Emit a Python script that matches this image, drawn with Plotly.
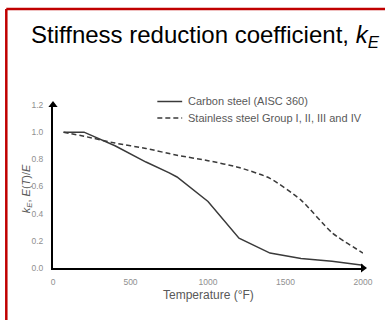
import plotly.graph_objects as go

# Temperature (°F) and stiffness reduction factors
carbon_temp = [68, 200, 400, 600, 750, 800, 1000, 1200, 1400, 1600, 1800, 2000]
carbon_ke = [1.00, 1.00, 0.90, 0.78, 0.70, 0.67, 0.49, 0.22, 0.11, 0.07, 0.05, 0.02]

stainless_temp = [68, 200, 400, 600, 800, 1000, 1200, 1400, 1600, 1800, 2000]
stainless_ke = [1.00, 0.97, 0.92, 0.88, 0.83, 0.79, 0.74, 0.66, 0.50, 0.26, 0.11]

series_names = ["Carbon steel (AISC 360)", "Stainless steel Group I, II, III and IV"]

x_ticks = [0, 500, 1000, 1500, 2000]
y_ticks = [0.0, 0.2, 0.4, 0.6, 0.8, 1.0, 1.2]
x_max, y_max = 2000, 1.2

FONT = "Liberation Sans, Arial, sans-serif"
TICK_GREY = "#8f8f8f"
TEXT_GREY = "#595959"
LINE_GREY = "#3a3a3a"
DASH = "5px,3px"

W, H = 385, 320
L, R, T, B = 53, 20, 105, 52
pw, ph = W - L - R, H - T - B


def px_x(p):
    return (p - L) / pw


def px_y(p):
    return (H - B - p) / ph


fig = go.Figure()
fig.add_trace(go.Scatter(
    x=carbon_temp, y=carbon_ke, mode="lines", name=series_names[0],
    line=dict(color=LINE_GREY, width=1.5), showlegend=False,
))
fig.add_trace(go.Scatter(
    x=stainless_temp, y=stainless_ke, mode="lines", name=series_names[1],
    line=dict(color=LINE_GREY, width=1.5, dash=DASH, shape="spline", smoothing=0.6),
    showlegend=False,
))

# Arrowheads at the ends of both axes
fig.add_trace(go.Scatter(
    x=[0, x_max], y=[y_max, 0], mode="markers", showlegend=False, hoverinfo="skip",
    marker=dict(symbol=["triangle-up", "triangle-right"], size=8, color="black",
                line=dict(width=0)),
    cliponaxis=False,
))

fig.update_layout(
    width=W, height=H,
    margin=dict(l=L, r=R, t=T, b=B),
    paper_bgcolor="white", plot_bgcolor="white",
    font=dict(family=FONT, color=TEXT_GREY),
    showlegend=False,
    xaxis=dict(
        range=[0, x_max], tickvals=x_ticks, ticktext=[str(v) for v in x_ticks],
        showgrid=False, zeroline=False,
        showline=True, linecolor="black", linewidth=2,
        ticks="outside", ticklen=5, tickcolor="rgba(0,0,0,0)",
        tickfont=dict(size=8.5, color=TICK_GREY),
    ),
    yaxis=dict(
        range=[0, y_max], tickvals=y_ticks, ticktext=[f"{v:.1f}" for v in y_ticks],
        showgrid=False, zeroline=False,
        showline=True, linecolor="black", linewidth=2,
        ticks="outside", ticklen=6, tickcolor="rgba(0,0,0,0)",
        tickfont=dict(size=8.5, color=TICK_GREY),
    ),
)

# Axis titles
fig.add_annotation(
    x=px_x(209), y=px_y(295), xref="paper", yref="paper", showarrow=False,
    text="Temperature (°F)", font=dict(size=12, color=TEXT_GREY),
    xanchor="center", yanchor="middle",
)
fig.add_annotation(
    x=px_x(27), y=px_y(189), xref="paper", yref="paper", showarrow=False,
    text="<i>k<sub>E</sub></i>, <i>E</i>(<i>T</i>)/<i>E</i>",
    textangle=-90, font=dict(size=11, color=TEXT_GREY),
    xanchor="center", yanchor="middle",
)

# Legend: line samples and labels
legend_rows = [101.5, 118]
legend_dash = ["solid", DASH]
for name, row, dash in zip(series_names, legend_rows, legend_dash):
    fig.add_shape(type="line", xref="paper", yref="paper",
                  x0=px_x(158), x1=px_x(183), y0=px_y(row), y1=px_y(row),
                  line=dict(color=LINE_GREY, width=1.5, dash=dash))
    fig.add_annotation(
        x=px_x(187), y=px_y(row), xref="paper", yref="paper", showarrow=False,
        text=name, font=dict(size=11, color=TEXT_GREY),
        xanchor="left", yanchor="middle",
    )

# Heading
fig.add_annotation(
    x=px_x(29), y=px_y(36), xref="paper", yref="paper", showarrow=False,
    text="Stiffness reduction coefficient, <i>k<sub>E</sub></i>",
    font=dict(size=24, color="black"), xanchor="left", yanchor="middle",
)

# Red frame around the panel (runs past the right and bottom edges)
fig.add_shape(type="line", xref="paper", yref="paper",
              x0=px_x(6), y0=px_y(9), x1=px_x(400), y1=px_y(9),
              line=dict(color="#c00000", width=2.5))
fig.add_shape(type="line", xref="paper", yref="paper",
              x0=px_x(6), y0=px_y(9), x1=px_x(6), y1=px_y(330),
              line=dict(color="#c00000", width=2.5))

fig.write_html("out.html")
